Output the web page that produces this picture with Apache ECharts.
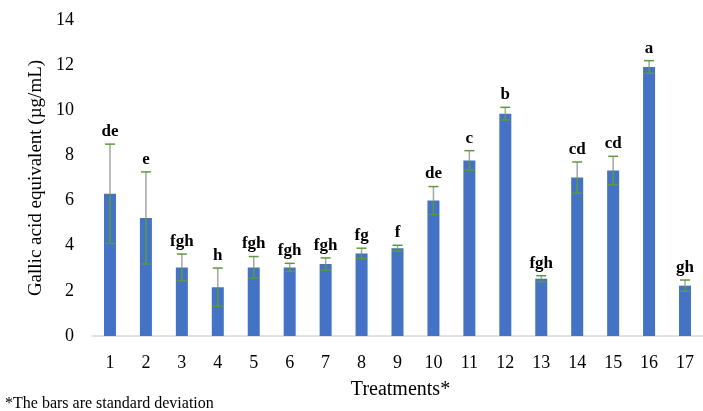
<!DOCTYPE html>
<html>
<head>
<meta charset="utf-8">
<script src="https://cdn.jsdelivr.net/npm/echarts@6/dist/echarts.min.js"></script>
<style>html,body{margin:0;padding:0;background:#fff}#c{width:703px;height:411px}</style>
</head>
<body>
<div id="c"></div>
<script>
const categories = ['1','2','3','4','5','6','7','8','9','10','11','12','13','14','15','16','17'];
const means = [6.3, 5.23, 3.04, 2.16, 3.04, 3.04, 3.19, 3.66, 3.89, 6.0, 7.78, 9.85, 2.54, 7.02, 7.33, 11.92, 2.23];
const sds = [2.2, 2.04, 0.59, 0.85, 0.48, 0.18, 0.27, 0.23, 0.13, 0.62, 0.43, 0.28, 0.13, 0.69, 0.63, 0.28, 0.25];
const letters = ['de','e','fgh','h','fgh','fgh','fgh','fg','f','de','c','b','fgh','cd','cd','a','gh'];
const yTicks = [0, 2, 4, 6, 8, 10, 12, 14];

const serif = '"Liberation Serif", "Times New Roman", serif';
const chart = echarts.init(document.getElementById('c'));
const errData = categories.map((c, i) => [i, means[i], sds[i], letters[i]]);

chart.setOption({
  animation: false,
  grid: { left: 92, top: 20, width: 619, bottom: 75 },
  xAxis: {
    type: 'category',
    data: categories,
    axisLine: { lineStyle: { color: '#d9d9d9', width: 1.5 } },
    axisTick: { show: false },
    axisLabel: { color: '#000', fontFamily: serif, fontSize: 18, margin: 18 },
    name: 'Treatments*',
    nameLocation: 'middle',
    nameGap: 44,
    nameTextStyle: { color: '#000', fontFamily: serif, fontSize: 20, padding: [0, 0, 0, 6] }
  },
  yAxis: {
    type: 'value',
    min: yTicks[0],
    max: yTicks[yTicks.length - 1],
    interval: 2,
    splitLine: { show: false },
    axisLine: { show: false },
    axisTick: { show: false },
    axisLabel: { color: '#000', fontFamily: serif, fontSize: 18, margin: 18 },
    name: 'Gallic acid equivalent (µg/mL)',
    nameLocation: 'middle',
    nameGap: 43,
    nameTextStyle: { color: '#000', fontFamily: serif, fontSize: 19 }
  },
  graphic: [{
    type: 'text', left: 5, top: 396,
    style: { text: '*The bars are standard deviation', fontFamily: serif, fontSize: 16, fill: '#000' }
  }],
  series: [
    {
      type: 'bar',
      data: means,
      barWidth: 12,
      itemStyle: { color: '#4472c4' }
    },
    {
      type: 'custom',
      data: errData,
      z: 10,
      renderItem: function (params, api) {
        const i = api.value(0), m = api.value(1), s = api.value(2);
        const top = api.coord([i, m + s]);
        const mid = api.coord([i, m]);
        const bot = api.coord([i, Math.max(0, m - s)]);
        const x = top[0];
        const hw = 5;
        return {
          type: 'group',
          children: [
            { type: 'line', shape: { x1: x, y1: top[1], x2: x, y2: mid[1] }, style: { stroke: '#a6a6a6', lineWidth: 1.5 } },
            { type: 'line', shape: { x1: x, y1: mid[1], x2: x, y2: bot[1] }, style: { stroke: '#5e9a3c', lineWidth: 1.5 } },
            { type: 'line', shape: { x1: x - hw, y1: top[1], x2: x + hw, y2: top[1] }, style: { stroke: '#5e9a3c', lineWidth: 1.5 } },
            { type: 'line', shape: { x1: x - hw, y1: bot[1], x2: x + hw, y2: bot[1] }, style: { stroke: '#5e9a3c', lineWidth: 1.5 } },
            { type: 'text', style: { text: letters[i], x: x, y: top[1] - 4, align: 'center', verticalAlign: 'bottom', fontFamily: serif, fontWeight: 'bold', fontSize: 17, fill: '#000' } }
          ]
        };
      }
    }
  ]
});
</script>
</body>
</html>
